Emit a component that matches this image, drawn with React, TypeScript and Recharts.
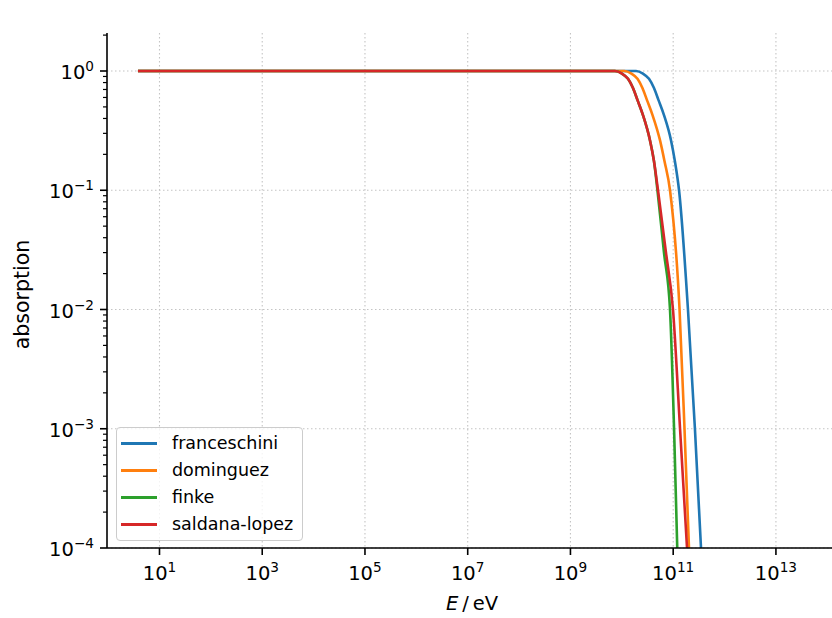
import { CartesianGrid, Legend, Line, LineChart, XAxis, YAxis } from "recharts";

// energies in eV, absorption = exp(-tau)
const FRANCESCHINI_E = [3.81, 1.89e10, 2.58e10, 3.38e10, 4.23e10, 5.18e10, 6.62e10, 9.06e10, 1.08e11, 1.3e11, 1.94e11, 2.65e11, 3.48e11];
const FRANCESCHINI_A = [1, 1, 0.95, 0.86, 0.72, 0.57, 0.427, 0.263, 0.175, 0.1, 0.01, 0.001, 0.0001];

const DOMINGUEZ_E = [3.81, 1.127e10, 1.54e10, 2.02e10, 2.52e10, 3.09e10, 3.96e10, 5.53e10, 6.78e10, 8.67e10, 1.33e11, 1.66e11, 2.03e11];
const DOMINGUEZ_A = [1, 1, 0.95, 0.86, 0.72, 0.57, 0.427, 0.263, 0.175, 0.1, 0.01, 0.001, 0.0001];

const FINKE_E = [3.81, 7.36e9, 1.007e10, 1.32e10, 1.65e10, 2.02e10, 2.58e10, 3.53e10, 4.23e10, 4.94e10, 6.62e10, 8.67e10, 1.04e11, 1.2e11];
const FINKE_A = [1, 1, 0.95, 0.86, 0.72, 0.57, 0.427, 0.263, 0.175, 0.1, 0.03, 0.01, 0.001, 0.0001];

const SALDANA_E = [3.81, 7.36e9, 1.007e10, 1.32e10, 1.65e10, 2.02e10, 2.58e10, 3.53e10, 4.23e10, 5.06e10, 7.24e10, 9.91e10, 1.36e11, 1.86e11];
const SALDANA_A = [1, 1, 0.95, 0.86, 0.72, 0.57, 0.427, 0.263, 0.175, 0.1, 0.03, 0.01, 0.001, 0.0001];

const SERIES = [
  { name: "franceschini", color: "#1f77b4", e: FRANCESCHINI_E, a: FRANCESCHINI_A },
  { name: "dominguez", color: "#ff7f0e", e: DOMINGUEZ_E, a: DOMINGUEZ_A },
  { name: "finke", color: "#2ca02c", e: FINKE_E, a: FINKE_A },
  { name: "saldana-lopez", color: "#d62728", e: SALDANA_E, a: SALDANA_A },
];

const X_TICKS = [1e1, 1e3, 1e5, 1e7, 1e9, 1e11, 1e13];
const Y_TICKS = [1e-4, 1e-3, 1e-2, 1e-1, 1];
const Y_MINOR_TICKS = [
  2e-4, 3e-4, 4e-4, 5e-4, 6e-4, 7e-4, 8e-4, 9e-4,
  2e-3, 3e-3, 4e-3, 5e-3, 6e-3, 7e-3, 8e-3, 9e-3,
  2e-2, 3e-2, 4e-2, 5e-2, 6e-2, 7e-2, 8e-2, 9e-2,
  0.2, 0.3, 0.4, 0.5, 0.6, 0.7, 0.8, 0.9,
  2,
];

const X_DOMAIN = [0.951, 1.545e14];
const Y_DOMAIN = [1e-4, 2.083];

const FONT = "'DejaVu Sans', sans-serif";
const TICK_LEN = 7;
const TICK_PAD = 6;
const TICK_FONT = 19.5;

function expLabel(v: number) {
  const p = Math.round(Math.log10(v));
  return p < 0 ? `\u2212${-p}` : `${p}`;
}

function XTick(props: any) {
  const { x, y, payload } = props;
  return (
    <text x={x} y={y + 19} textAnchor="middle" fontSize={TICK_FONT} fontFamily={FONT} fill="#000">
      10
      <tspan dy={-8} fontSize={TICK_FONT * 0.7}>
        {expLabel(payload.value)}
      </tspan>
    </text>
  );
}

function YTick(props: any) {
  const { x, y, payload } = props;
  const v = payload.value as number;
  const ax = x + TICK_LEN + TICK_PAD;
  const major = Y_TICKS.includes(v);
  return (
    <g>
      <line
        x1={ax}
        x2={ax - (major ? TICK_LEN : 4)}
        y1={y}
        y2={y}
        stroke="#000"
        strokeWidth={major ? 1.6 : 1.2}
      />
      {major && (
        <text x={x} y={y + 8} textAnchor="end" fontSize={TICK_FONT} fontFamily={FONT} fill="#000">
          10
          <tspan dy={-8} fontSize={TICK_FONT * 0.7}>
            {expLabel(v)}
          </tspan>
        </text>
      )}
    </g>
  );
}

function TitleLabel(props: any) {
  const { x, y, width } = props.viewBox;
  return (
    <text x={x + width / 2 - 11} y={y - 11} textAnchor="middle" fontSize={22} fontFamily={FONT} fill="#000">
      EBL absorption at z=1
    </text>
  );
}

function XLabel(props: any) {
  const { x, y, width } = props.viewBox;
  return (
    <text x={x + width / 2} y={y + 62} textAnchor="middle" fontSize={19.5} fontFamily={FONT} fill="#000">
      <tspan fontStyle="italic">E</tspan>
      <tspan>{"\u2009/\u2009eV"}</tspan>
    </text>
  );
}

function YLabel(props: any) {
  const { x, y, height } = props.viewBox;
  const cx = x + 22;
  const cy = y + height / 2 + 4;
  return (
    <text
      x={cx}
      y={cy}
      transform={`rotate(-90, ${cx}, ${cy})`}
      textAnchor="middle"
      fontSize={20.5}
      fontFamily={FONT}
      fill="#000"
    >
      absorption
    </text>
  );
}

function LegendBox(props: any) {
  const order = SERIES.map((s) => s.name);
  const items = [...(props.payload || [])].sort(
    (p: any, q: any) => order.indexOf(p.value) - order.indexOf(q.value),
  );
  return (
    <div
      style={{
        border: "1px solid #cccccc",
        borderRadius: 4,
        background: "rgba(255,255,255,0.8)",
        padding: "6px 9px 6px 4px",
        fontFamily: FONT,
        fontSize: 17.5,
        color: "#000",
      }}
    >
      {items.map((it: any, i: number) => (
        <div
          key={it.value}
          style={{
            display: "flex",
            alignItems: "center",
            height: 19,
            marginTop: i === 0 ? 0 : 8,
          }}
        >
          <div style={{ width: 36, height: 3, background: it.color, marginRight: 15 }} />
          <span style={{ lineHeight: "19px" }}>{it.value}</span>
        </div>
      ))}
    </div>
  );
}

export default function App() {
  return (
    <div
      style={{
        position: "absolute",
        left: 0,
        top: 0,
        width: 832,
        height: 618,
        overflow: "hidden",
        background: "#fff",
      }}
    >
      <LineChart width={840} height={618} margin={{ top: 33, right: 3, left: 7, bottom: 10 }}>
        <CartesianGrid
          horizontalValues={Y_TICKS}
          verticalValues={X_TICKS}
          stroke="#c4c4c4"
          strokeWidth={1.1}
          strokeDasharray="1.5 2.5"
        />
        <XAxis
          dataKey="e"
          type="number"
          scale="log"
          domain={X_DOMAIN}
          allowDataOverflow
          ticks={X_TICKS}
          interval={0}
          tick={<XTick />}
          tickSize={TICK_LEN}
          tickMargin={TICK_PAD}
          tickLine={{ stroke: "#000", strokeWidth: 1.6 }}
          axisLine={{ stroke: "#000", strokeWidth: 1.6 }}
          height={60}
          label={XLabel}
        />
        <XAxis
          xAxisId="top"
          orientation="top"
          type="number"
          scale="log"
          domain={X_DOMAIN}
          allowDataOverflow
          ticks={[]}
          tick={false}
          tickLine={false}
          axisLine={{ stroke: "#000", strokeWidth: 1.6 }}
          height={0}
          label={TitleLabel}
        />
        <YAxis
          type="number"
          scale="log"
          domain={Y_DOMAIN}
          allowDataOverflow
          ticks={[...Y_TICKS, ...Y_MINOR_TICKS]}
          interval={0}
          tick={<YTick />}
          tickSize={TICK_LEN}
          tickMargin={TICK_PAD}
          tickLine={false}
          axisLine={{ stroke: "#000", strokeWidth: 1.6 }}
          width={100}
          label={YLabel}
        />
        <Legend
          content={<LegendBox />}
          layout="vertical"
          align="center"
          verticalAlign="middle"
          wrapperStyle={{ left: 116, top: 427, width: "auto", height: "auto" }}
        />
        {SERIES.map((s) => (
          <Line
            key={s.name}
            data={s.e.map((e, i) => ({ e, a: s.a[i] }))}
            dataKey="a"
            name={s.name}
            type="monotone"
            stroke={s.color}
            strokeWidth={2.6}
            dot={false}
            activeDot={false}
            isAnimationActive={false}
          />
        ))}
      </LineChart>
    </div>
  );
}
